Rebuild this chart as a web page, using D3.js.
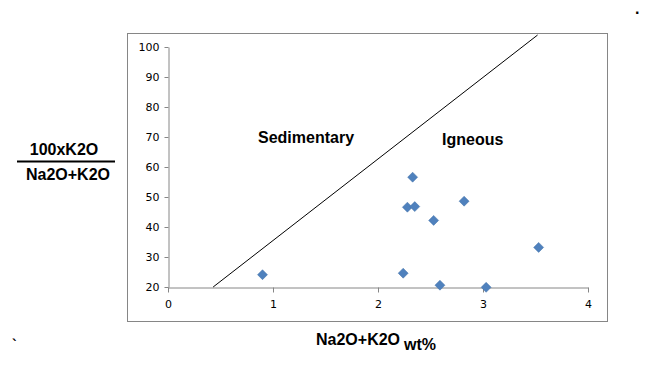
<!DOCTYPE html>
<html>
<head>
<meta charset="utf-8">
<script src="https://cdn.jsdelivr.net/npm/d3@7"></script>
<style>
  body { margin: 0; background: #fff; }
  svg { display: block; }
  .tick text { font-family: "DejaVu Sans", Verdana, sans-serif; font-size: 11px; fill: #000; }
  .tick line, .domain { stroke: #868686; }
  .big { font-family: "Liberation Sans", Arial, sans-serif; font-weight: bold; font-size: 16px; fill: #000; }
</style>
</head>
<body>
<div id="chart"></div>
<script>
// samples: Na2O+K2O (wt%) vs 100xK2O/(Na2O+K2O)
var sampleX = [0.90, 2.33, 2.28, 2.35, 2.53, 2.82, 3.53, 2.24, 2.59, 3.03];
var sampleY = [24.1, 56.6, 46.6, 46.8, 42.2, 48.6, 33.2, 24.6, 20.6, 19.9];

// sedimentary / igneous divide
var divideX = [0.43, 3.52];
var divideY = [20, 104];

var xTicks = [0, 1, 2, 3, 4];
var yTicks = [20, 30, 40, 50, 60, 70, 80, 90, 100];

var width = 671, height = 371;

var svg = d3.select('#chart').append('svg')
  .attr('width', width)
  .attr('height', height);

// chart frame
svg.append('rect')
  .attr('x', 127.5).attr('y', 33.5)
  .attr('width', 480).attr('height', 288)
  .attr('fill', 'none')
  .attr('stroke', '#868686');

var x = d3.scaleLinear().domain([0, 4]).range([168, 588]);
var y = d3.scaleLinear().domain([20, 100]).range([287, 47]);

var yAxis = d3.axisLeft(y).tickValues(yTicks).tickSizeInner(4).tickSizeOuter(0).tickPadding(5);
svg.append('g')
  .attr('class', 'y-axis')
  .attr('transform', 'translate(' + 168.5 + ',0)')
  .call(yAxis);

var xAxis = d3.axisBottom(x).tickValues(xTicks).tickFormat(d3.format('d'))
  .tickSizeInner(5).tickSizeOuter(0).tickPadding(8);
svg.append('g')
  .attr('class', 'x-axis')
  .attr('transform', 'translate(0,' + 287.5 + ')')
  .call(xAxis);

// divide line
svg.append('line')
  .attr('x1', x(divideX[0])).attr('y1', y(divideY[0]))
  .attr('x2', x(divideX[1])).attr('y2', y(divideY[1]))
  .attr('stroke', '#000')
  .attr('stroke-width', 1);

// diamonds
var r = 5;
svg.append('g')
  .attr('class', 'points')
  .selectAll('path')
  .data(sampleX.map(function(d, i){ return [d, sampleY[i]]; }))
  .enter()
  .append('path')
  .attr('d', 'M0,' + (-r) + 'L' + r + ',0L0,' + r + 'L' + (-r) + ',0Z')
  .attr('transform', function(d){ return 'translate(' + x(d[0]) + ',' + y(d[1]) + ')'; })
  .attr('fill', '#4F81BD')
  .attr('stroke', '#4472A8')
  .attr('stroke-width', 0.5);

// region labels
svg.append('text').attr('class', 'big')
  .attr('x', 258).attr('y', 143)
  .text('Sedimentary');
svg.append('text').attr('class', 'big')
  .attr('x', 442).attr('y', 145)
  .text('Igneous');

// y label as a fraction
svg.append('text').attr('class', 'big')
  .attr('x', 64).attr('y', 155)
  .attr('text-anchor', 'middle')
  .text('100xK2O');
svg.append('line')
  .attr('x1', 17).attr('x2', 115)
  .attr('y1', 161.5).attr('y2', 161.5)
  .attr('stroke', '#000')
  .attr('stroke-width', 2);
svg.append('text').attr('class', 'big')
  .attr('x', 68).attr('y', 180)
  .attr('text-anchor', 'middle')
  .text('Na2O+K2O');

// x label
svg.append('text').attr('class', 'big')
  .attr('x', 316).attr('y', 345)
  .text('Na2O+K2O');
svg.append('text').attr('class', 'big')
  .attr('x', 404).attr('y', 350)
  .text('wt%');

// stray marks
svg.append('text').attr('class', 'big')
  .attr('x', 635).attr('y', 14)
  .text('.');
svg.append('text')
  .attr('x', 12).attr('y', 350)
  .style('font-family', 'Liberation Sans, sans-serif')
  .style('font-size', '14px')
  .style('font-weight', 'bold')
  .text('`');
</script>
</body>
</html>
